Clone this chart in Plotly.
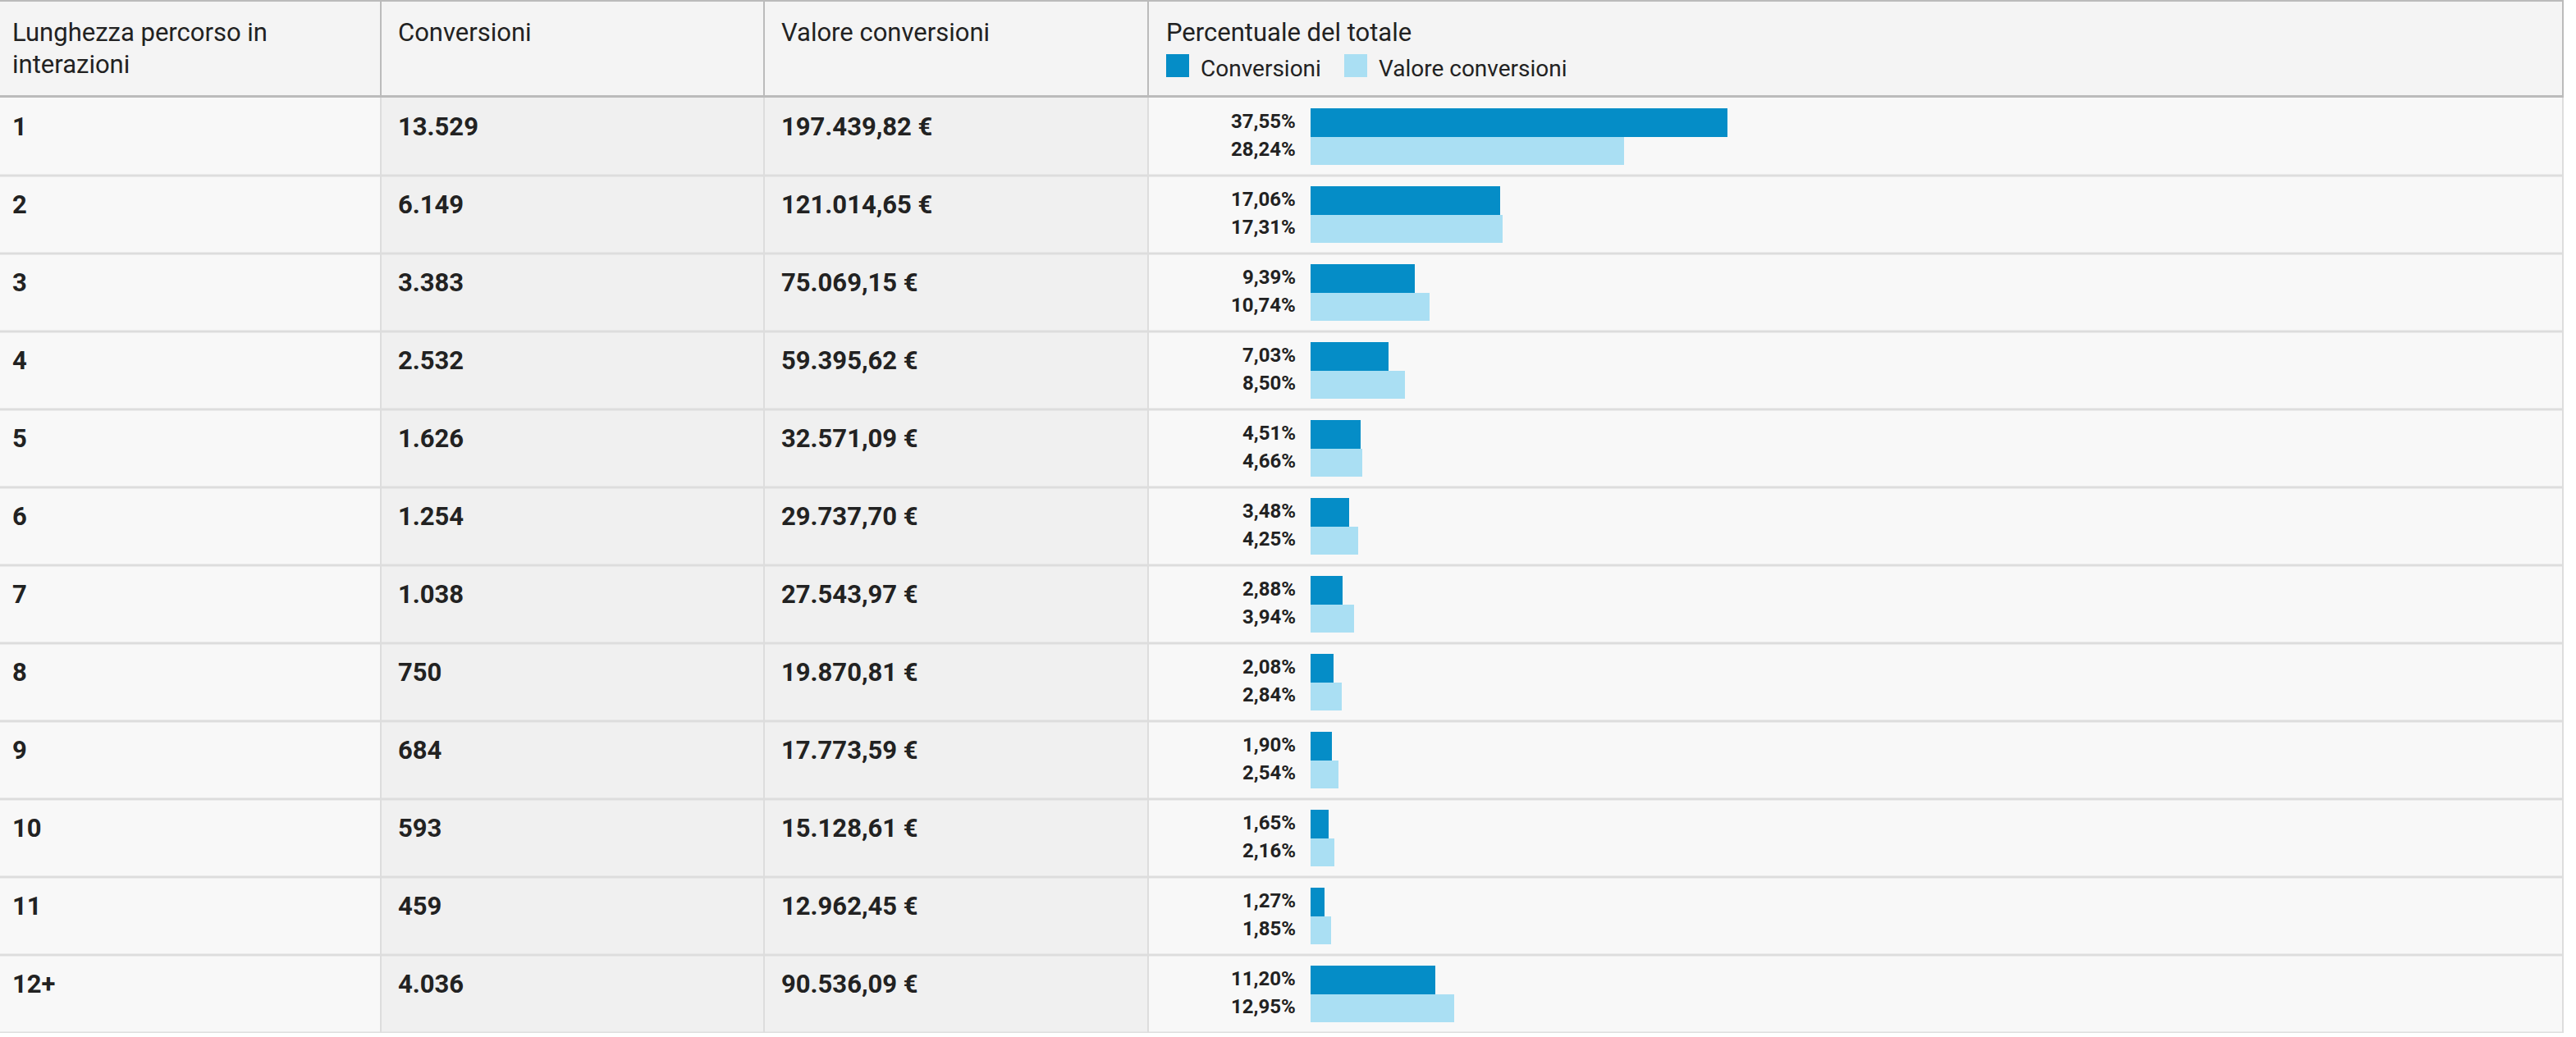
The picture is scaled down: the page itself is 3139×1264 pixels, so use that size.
import plotly.graph_objects as go

# ---------------- data ----------------
path_lengths = ["1", "2", "3", "4", "5", "6", "7", "8", "9", "10", "11", "12+"]
conversions = [13529, 6149, 3383, 2532, 1626, 1254, 1038, 750, 684, 593, 459, 4036]
conv_values = [197439.82, 121014.65, 75069.15, 59395.62, 32571.09, 29737.70,
               27543.97, 19870.81, 17773.59, 15128.61, 12962.45, 90536.09]
pct_conversions = [37.55, 17.06, 9.39, 7.03, 4.51, 3.48, 2.88, 2.08, 1.90, 1.65, 1.27, 11.20]
pct_values = [28.24, 17.31, 10.74, 8.50, 4.66, 4.25, 3.94, 2.84, 2.54, 2.16, 1.85, 12.95]

col_headers = ["Lunghezza percorso in", "interazioni", "Conversioni", "Valore conversioni",
               "Percentuale del totale"]
legend_labels = ["Conversioni", "Valore conversioni"]

# ---------------- style / layout ----------------
W, H = 3139, 1264
HEADER_BOTTOM = 119
BODY_BOTTOM = 1259
TABLE_RIGHT = 3124
COL_EDGES = [0, 465, 932, 1400, TABLE_RIGHT]
BAR_ZERO = 1597
PX_PER_PCT = 13.53
PAD = 3  # annotation internal padding compensation

DARK = "#058dc7"
LIGHT = "#aadff3"
TXT = "#222222"
FONT = "Roboto"


def fx(px):
    return px / W


def fy(py):
    return 1 - py / H


def it_int(n):
    return f"{n:,}".replace(",", ".")


def it_money(v):
    s = f"{v:,.2f}"
    s = s.replace(",", "X").replace(".", ",").replace("X", ".")
    return s + " €"


def it_pct(p):
    return f"{p:.2f}".replace(".", ",") + "%"


n = len(path_lengths)
BAR_W = 0.363

fig = go.Figure()
fig.add_trace(go.Bar(
    y=path_lengths, x=pct_conversions, orientation="h", name=legend_labels[0],
    marker=dict(color=DARK, line=dict(width=0)), width=BAR_W, offset=-BAR_W,
    hoverinfo="skip", showlegend=False,
))
fig.add_trace(go.Bar(
    y=path_lengths, x=pct_values, orientation="h", name=legend_labels[1],
    marker=dict(color=LIGHT, line=dict(width=0)), width=BAR_W, offset=0,
    hoverinfo="skip", showlegend=False,
))

shapes = []
# header background
shapes.append(dict(type="rect", xref="paper", yref="paper", x0=fx(0), x1=fx(TABLE_RIGHT),
                   y0=fy(HEADER_BOTTOM), y1=fy(0), fillcolor="#f4f4f4",
                   line=dict(width=0), layer="below"))
# column backgrounds
col_bg = ["#f8f8f8", "#f0f0f0", "#f0f0f0", "#f8f8f8"]
for c in range(4):
    shapes.append(dict(type="rect", xref="paper", yref="paper", x0=fx(COL_EDGES[c]),
                       x1=fx(COL_EDGES[c + 1]), y0=fy(BODY_BOTTOM), y1=fy(HEADER_BOTTOM),
                       fillcolor=col_bg[c], line=dict(width=0), layer="below"))
# row separators
for i in range(n):
    shapes.append(dict(type="line", xref="paper", yref="y", x0=fx(0), x1=fx(TABLE_RIGHT),
                       y0=i + 0.5, y1=i + 0.5, line=dict(color="#dddddd", width=3),
                       layer="below"))
# body vertical separators
for xe in COL_EDGES[1:]:
    shapes.append(dict(type="line", xref="paper", yref="paper", x0=fx(xe - 1), x1=fx(xe - 1),
                       y0=fy(BODY_BOTTOM), y1=fy(HEADER_BOTTOM),
                       line=dict(color="#dddddd", width=2), layer="below"))
# header vertical separators
for xe in COL_EDGES[1:]:
    shapes.append(dict(type="line", xref="paper", yref="paper", x0=fx(xe - 1), x1=fx(xe - 1),
                       y0=fy(HEADER_BOTTOM), y1=fy(0),
                       line=dict(color="#bbbbbb", width=2), layer="below"))
# header top and bottom borders
shapes.append(dict(type="line", xref="paper", yref="paper", x0=fx(0), x1=fx(TABLE_RIGHT),
                   y0=fy(1), y1=fy(1), line=dict(color="#bbbbbb", width=2), layer="below"))
shapes.append(dict(type="line", xref="paper", yref="paper", x0=fx(0), x1=fx(TABLE_RIGHT),
                   y0=fy(117.5), y1=fy(117.5), line=dict(color="#bbbbbb", width=3),
                   layer="below"))
# legend squares
for k, (col, x0) in enumerate([(DARK, 1421), (LIGHT, 1638)]):
    shapes.append(dict(type="rect", xref="paper", yref="paper", x0=fx(x0), x1=fx(x0 + 28),
                       y0=fy(94), y1=fy(66), fillcolor=col, line=dict(width=0)))

annotations = []
hdr_font = dict(family=FONT, size=31, color=TXT)
# header texts
header_pos = [(16, 39), (16, 78), (486, 39), (953, 39), (1422, 39)]
for text, (x, y) in zip(col_headers, header_pos):
    annotations.append(dict(text=text, xref="paper", yref="paper", x=fx(x - PAD), y=fy(y),
                            xanchor="left", yanchor="middle", showarrow=False, font=hdr_font))
# legend texts
for text, x in zip(legend_labels, [1464, 1681]):
    annotations.append(dict(text=text, xref="paper", yref="paper", x=fx(x - PAD), y=fy(83),
                            xanchor="left", yanchor="middle", showarrow=False,
                            font=dict(family=FONT, size=28, color=TXT)))

cell_font = dict(family=FONT, size=31, color=TXT, weight="bold")
lab_font = dict(family=FONT, size=24, color=TXT, weight="bold")
for i in range(n):
    cells = [path_lengths[i], it_int(conversions[i]), it_money(conv_values[i])]
    for text, x in zip(cells, [16, 486, 953]):
        annotations.append(dict(text=text, xref="paper", yref="y", x=fx(x - PAD), y=i,
                                xanchor="left", yanchor="middle", yshift=12,
                                showarrow=False, font=cell_font))
    annotations.append(dict(text=it_pct(pct_conversions[i]), xref="x", yref="y", x=0, y=i,
                            xanchor="right", yanchor="middle", xshift=-19 + PAD, yshift=18.5,
                            showarrow=False, font=lab_font))
    annotations.append(dict(text=it_pct(pct_values[i]), xref="x", yref="y", x=0, y=i,
                            xanchor="right", yanchor="middle", xshift=-19 + PAD, yshift=-15.75,
                            showarrow=False, font=lab_font))

fig.update_layout(
    width=W, height=H,
    margin=dict(l=0, r=0, t=0, b=0),
    paper_bgcolor="white",
    plot_bgcolor="rgba(0,0,0,0)",
    barmode="overlay",
    bargap=0,
    shapes=shapes,
    annotations=annotations,
    xaxis=dict(domain=[fx(BAR_ZERO), fx(TABLE_RIGHT)],
               range=[0, (TABLE_RIGHT - BAR_ZERO) / PX_PER_PCT],
               showgrid=False, zeroline=False, showticklabels=False, showline=False,
               fixedrange=True),
    yaxis=dict(domain=[fy(BODY_BOTTOM), fy(HEADER_BOTTOM)],
               type="category", categoryorder="array", categoryarray=path_lengths,
               range=[n - 0.5, -0.5],
               showgrid=False, zeroline=False, showticklabels=False, showline=False,
               fixedrange=True),
    showlegend=False,
)

fig.write_html("out.html", config={"displayModeBar": False},
               post_script="document.body.style.margin='0';document.body.style.overflow='hidden';")
